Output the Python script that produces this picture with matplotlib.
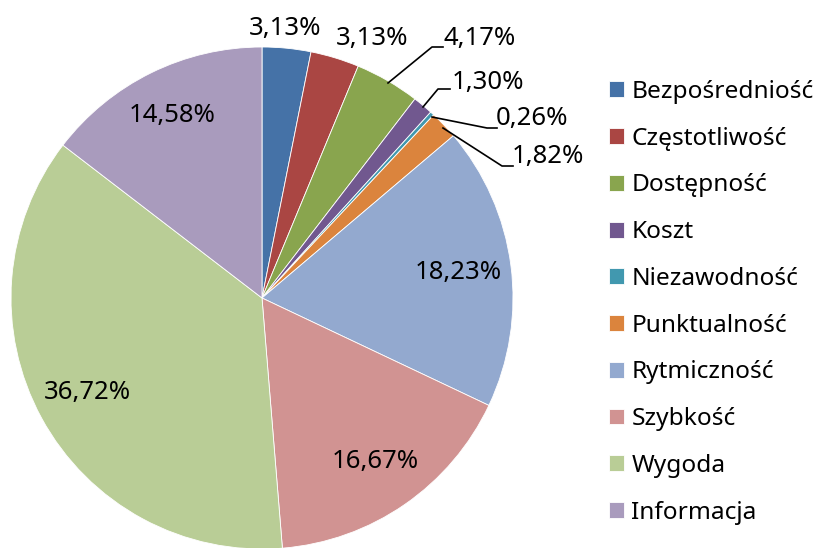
import matplotlib
matplotlib.use('Agg')
import matplotlib.pyplot as plt
import numpy as np

# data
categories = ['Bezpośredniość', 'Częstotliwość', 'Dostępność', 'Koszt', 'Niezawodność',
              'Punktualność', 'Rytmiczność', 'Szybkość', 'Wygoda', 'Informacja']
shares = [3.13, 3.13, 4.17, 1.30, 0.26, 1.82, 18.23, 16.67, 36.72, 14.58]
colors = ['#4572A7', '#AA4643', '#89A54E', '#71588F', '#4198AF',
          '#DB843D', '#93A9CF', '#D19392', '#B9CD96', '#A99BBD']


def fmt(v):
    return f'{v:.2f}%'.replace('.', ',')


plt.rcParams['font.family'] = ['Noto Sans', 'DejaVu Sans']

W, H = 815, 548
fig = plt.figure(figsize=(W / 100, H / 100), dpi=100)
ax = fig.add_axes([0, 0, 1, 1])
ax.set_aspect('equal')
ax.axis('off')

cx, cy, R = 262, H - 298, 251
wedges, _ = ax.pie(shares, colors=colors, startangle=90, counterclock=False,
                   center=(cx, cy), radius=R, normalize=True,
                   wedgeprops=dict(edgecolor='white', linewidth=0.6))
ax.set_xlim(0, W)
ax.set_ylim(0, H)

fs = 18.5
# big slices: label inside, at a fraction of the radius
inside = {6: 0.79, 7: 0.79, 8: 0.79, 9: 0.81}
for i, w in enumerate(wedges):
    ang = np.deg2rad((w.theta1 + w.theta2) / 2)
    if i in inside:
        rf = inside[i]
        ax.text(cx + rf * R * np.cos(ang), cy + rf * R * np.sin(ang), fmt(shares[i]),
                ha='center', va='center', fontsize=fs)

# small slices: labels outside with leader lines (image pixel coords, y down)
outside = {
    0: ((285, 28), None),
    1: ((372, 38), None),
    2: ((480, 39), [(388, 83), (432, 47), (443, 47)]),
    3: ((488, 82), [(423, 107), (438, 89), (450, 89)]),
    4: ((532, 119), [(432, 117), (487, 128), (497, 128)]),
    5: ((548, 157), [(443, 128), (502, 166), (513, 166)]),
}
for i, (pos, line) in outside.items():
    ax.text(pos[0], H - pos[1], fmt(shares[i]), ha='center', va='center', fontsize=fs)
    if line:
        xs = [p[0] for p in line]
        ys = [H - p[1] for p in line]
        ax.plot(xs, ys, color='black', lw=1.2)

ax.legend(wedges, categories, loc='upper left', bbox_to_anchor=(609 / W, 1 - 80 / H),
          frameon=False, fontsize=17.6, handlelength=0.62, handleheight=0.62,
          handletextpad=0.3, labelspacing=0.93, borderaxespad=0, borderpad=0)

fig.savefig('out.png', dpi=100)
